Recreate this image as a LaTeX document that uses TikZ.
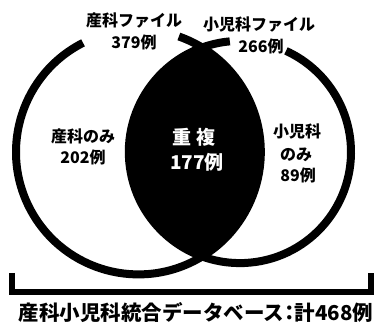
\documentclass[tikz,border=0pt]{standalone}
\usepackage{fontspec}
\newfontfamily\cjk{Noto Sans CJK JP}
\begin{document}
\begin{tikzpicture}[x=1pt,y=1pt,
  ring/.style={line width=8pt},
  lbl/.style={inner sep=0pt, font=\cjk\bfseries\fontsize{16}{17}\selectfont},
  midlbl/.style={inner sep=0pt, text=white, font=\cjk\bfseries\fontsize{19}{20}\selectfont},
  bottomlbl/.style={inner sep=0pt, font=\cjk\bfseries\fontsize{20.5}{22}\selectfont},
  brk/.style={line width=5.5pt}]
\useasboundingbox (0,0) rectangle (382,328);
\coordinate (L) at (138.4,176);
\coordinate (R) at (239.9,176);
% lens
\begin{scope}
  \clip (L) circle[radius=122.4];
  \fill[black] (R) circle[radius=111.1];
\end{scope}
% rings
\draw[ring] (L) ++(116.9:122.4) arc[start angle=116.9, end angle=430.7, radius=122.4];
\draw[ring] (R) ++(95.2:111.1) arc[start angle=95.2, end angle=425.5, radius=111.1];
% bracket
\coordinate (b1) at (12,55);
\coordinate (b2) at (371,55);
\draw[brk] (b1) -- (12,36) -- (371,36) -- (b2);
% labels
\node[lbl] (sa) at (134,307) {産科ファイル};
\node[lbl] (sb) at (134,286) {379例};
\node[lbl] (sc) at (259,303) {小児科ファイル};
\node[lbl] (sd) at (261,282) {266例};
\node[lbl] (ea) at (83,192) {産科のみ};
\node[lbl] (eb) at (83,171) {202例};
\node[midlbl] (ma) at (194,191) {重\hspace{5pt}複};
\node[midlbl] (mb) at (197,166) {177例};
\node[lbl] (pa) at (297,197) {小児科};
\node[lbl] (pb) at (296,173) {のみ};
\node[lbl] (pc) at (298,153) {89例};
\node[bottomlbl] (bt) at (196,15) {産科小児科統合データベース\kern-5pt：\kern-5pt 計468例};
\end{tikzpicture}
\end{document}
